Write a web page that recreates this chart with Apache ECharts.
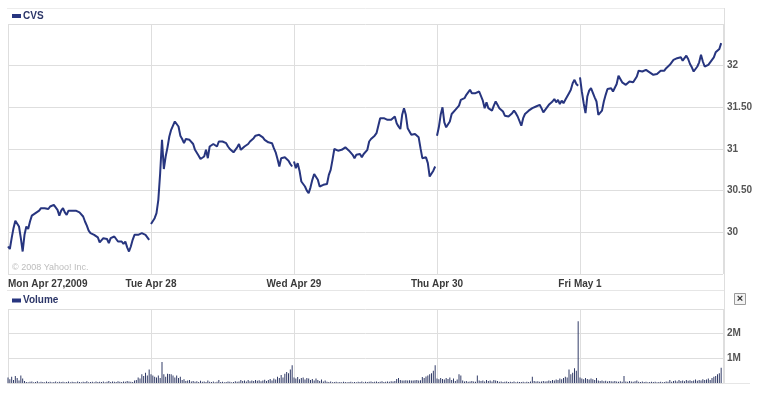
<!DOCTYPE html>
<html>
<head>
<meta charset="utf-8">
<script src="https://cdn.jsdelivr.net/npm/echarts@6/dist/echarts.min.js"></script>
<style>
html,body{margin:0;padding:0;background:#fff;}
#chart{width:761px;height:393px;}
</style>
</head>
<body>
<div id="chart"></div>
<script>
// ---- data ----
const symbol = 'CVS';
const volumeTitle = 'Volume';
const copyrightText = '\u00a9 2008 Yahoo! Inc.';
const dayLabels = ['Mon Apr 27,2009', 'Tue Apr 28', 'Wed Apr 29', 'Thu Apr 30', 'Fri May 1'];
const sessionMinutes = 390;   // 9:30 - 16:00
const barMinutes = 5;         // 5-minute samples
const priceMin = 29.5, priceMax = 32.5, priceStep = 0.5;
const volumeMin = 0, volumeMax = 3, volumeStep = 1; // millions

const monPrice = [29.83,29.80,29.93,30.05,30.14,30.16,30.07,29.93,29.77,29.97,
 30.07,30.04,30.13,30.20,30.21,30.23,30.21,30.26,30.29,30.31,
 30.29,30.29,30.28,30.31,30.33,30.33,30.31,30.27,30.20,30.26,
 30.29,30.24,30.21,30.26,30.25,30.26,30.26,30.26,30.26,30.24,
 30.23,30.19,30.13,30.08,30.02,29.99,29.99,29.97,29.97,29.94,
 29.88,29.89,29.93,29.91,29.92,29.87,29.93,29.95,29.95,29.94,
 29.89,29.91,29.89,29.86,29.89,29.82,29.77,29.83,29.91,29.97,
 29.96,29.97,29.97,29.99,30.01,29.97,29.95,29.91];
const tuePrice = [30.10,30.12,30.17,30.23,30.39,30.71,31.11,30.76,30.91,31.02,
 31.15,31.23,31.28,31.33,31.35,31.27,31.16,31.12,31.07,31.12,
 31.14,31.11,31.11,31.06,30.99,30.98,30.92,30.88,30.86,30.91,
 30.99,30.89,31.03,31.05,31.06,31.08,31.03,31.09,31.09,31.09,
 31.09,31.07,31.03,31.00,30.98,30.96,30.95,31.02,31.06,30.99,
 30.97,31.03,31.01,31.06,31.09,31.11,31.13,31.16,31.17,31.17,
 31.16,31.14,31.11,31.09,31.08,31.09,31.07,31.01,30.96,30.88,
 30.79,30.89,30.90,30.90,30.89,30.86,30.82,30.79];
const wedPrice = [30.85,30.77,30.83,30.74,30.61,30.58,30.55,30.50,30.47,30.54,
 30.63,30.70,30.71,30.63,30.55,30.54,30.57,30.58,30.58,30.69,
 30.75,30.87,31.00,31.01,30.98,30.97,30.99,31.01,31.02,31.00,
 30.98,30.96,30.93,30.89,30.93,30.91,30.94,30.90,30.94,30.92,
 30.99,31.09,31.12,31.12,31.16,31.19,31.28,31.37,31.38,31.37,
 31.35,31.35,31.35,31.35,31.37,31.39,31.31,31.27,31.24,31.41,
 31.49,31.41,31.25,31.21,31.17,31.16,31.18,31.20,31.14,31.01,
 30.89,30.90,30.90,30.83,30.67,30.68,30.74,30.79];
const thuPrice = [31.16,31.26,31.41,31.50,31.32,31.26,31.25,31.33,31.42,31.41,
 31.47,31.48,31.52,31.59,31.60,31.61,31.65,31.68,31.71,31.67,
 31.66,31.67,31.68,31.69,31.67,31.58,31.49,31.56,31.49,31.47,
 31.46,31.52,31.57,31.53,31.49,31.49,31.45,31.40,31.39,31.39,
 31.40,31.43,31.46,31.43,31.39,31.37,31.28,31.37,31.42,31.43,
 31.46,31.44,31.49,31.49,31.51,31.52,31.53,31.49,31.44,31.44,
 31.50,31.53,31.54,31.57,31.60,31.56,31.59,31.54,31.58,31.55,
 31.59,31.63,31.67,31.71,31.79,31.83,31.78,31.76];
const friPrice = [31.86,31.69,31.55,31.43,31.63,31.70,31.73,31.73,31.62,31.57,
 31.41,31.40,31.46,31.57,31.65,31.72,31.74,31.73,31.69,31.67,
 31.78,31.88,31.84,31.80,31.80,31.77,31.78,31.81,31.80,31.80,
 31.80,31.87,31.94,31.95,31.93,31.93,31.95,31.93,31.92,31.90,
 31.89,31.90,31.90,31.90,31.94,31.94,31.94,31.97,31.99,32.01,
 32.04,32.07,32.07,32.09,32.10,32.10,32.06,32.09,32.12,32.08,
 32.02,31.98,31.93,31.93,31.99,32.04,32.13,32.05,31.99,32.00,
 32.01,32.04,32.05,32.10,32.16,32.15,32.20,32.27];

const monVol = [0.22,0.15,0.25,0.12,0.28,0.20,0.10,0.30,0.18,0.08,
 0.04,0.03,0.05,0.06,0.03,0.04,0.07,0.03,0.05,0.04,
 0.03,0.06,0.04,0.05,0.03,0.04,0.06,0.03,0.05,0.04,
 0.05,0.03,0.04,0.06,0.03,0.05,0.04,0.03,0.06,0.04,
 0.03,0.05,0.04,0.07,0.03,0.04,0.05,0.03,0.06,0.04,
 0.05,0.04,0.06,0.03,0.05,0.08,0.04,0.06,0.05,0.04,
 0.07,0.05,0.04,0.06,0.05,0.08,0.06,0.05,0.04,0.10,
 0.12,0.22,0.18,0.35,0.28,0.42,0.30,0.55];
const tueVol = [0.35,0.30,0.25,0.22,0.30,0.20,0.85,0.35,0.25,0.38,
 0.36,0.35,0.30,0.22,0.30,0.20,0.25,0.12,0.15,0.08,
 0.10,0.12,0.06,0.08,0.05,0.07,0.04,0.09,0.05,0.06,
 0.04,0.10,0.05,0.04,0.06,0.03,0.05,0.12,0.04,0.05,
 0.03,0.04,0.06,0.05,0.03,0.04,0.07,0.05,0.06,0.12,
 0.08,0.10,0.06,0.12,0.07,0.10,0.08,0.12,0.09,0.11,
 0.07,0.10,0.13,0.08,0.12,0.16,0.10,0.18,0.14,0.25,
 0.20,0.32,0.22,0.38,0.45,0.40,0.55,0.72];
const wedVol = [0.22,0.18,0.24,0.15,0.20,0.22,0.14,0.20,0.18,0.12,
 0.16,0.10,0.18,0.12,0.08,0.14,0.06,0.10,0.05,0.04,
 0.06,0.03,0.04,0.05,0.03,0.04,0.03,0.05,0.04,0.03,
 0.04,0.05,0.03,0.04,0.03,0.05,0.04,0.06,0.03,0.05,
 0.04,0.05,0.06,0.04,0.05,0.06,0.04,0.05,0.07,0.04,
 0.05,0.06,0.05,0.07,0.06,0.08,0.16,0.20,0.12,0.10,
 0.10,0.11,0.10,0.11,0.10,0.10,0.11,0.12,0.10,0.11,
 0.24,0.20,0.26,0.30,0.35,0.40,0.50,0.72];
const thuVol = [0.18,0.15,0.20,0.16,0.14,0.20,0.16,0.22,0.12,0.18,
 0.08,0.14,0.35,0.30,0.10,0.06,0.08,0.05,0.06,0.08,
 0.06,0.05,0.30,0.10,0.08,0.10,0.06,0.12,0.08,0.10,
 0.06,0.12,0.10,0.08,0.05,0.06,0.04,0.05,0.06,0.04,
 0.05,0.04,0.06,0.03,0.05,0.04,0.04,0.05,0.03,0.05,
 0.04,0.06,0.25,0.08,0.06,0.07,0.05,0.06,0.08,0.06,
 0.07,0.10,0.08,0.12,0.10,0.14,0.12,0.18,0.15,0.20,
 0.25,0.22,0.55,0.35,0.42,0.60,0.50,2.50];
const friVol = [0.22,0.18,0.15,0.20,0.16,0.14,0.18,0.15,0.12,0.20,
 0.10,0.08,0.10,0.07,0.09,0.06,0.08,0.07,0.06,0.08,
 0.06,0.05,0.07,0.05,0.28,0.06,0.05,0.08,0.06,0.05,
 0.07,0.10,0.05,0.04,0.06,0.04,0.05,0.03,0.04,0.05,
 0.04,0.05,0.03,0.04,0.05,0.03,0.04,0.06,0.05,0.12,
 0.05,0.08,0.10,0.06,0.12,0.08,0.10,0.07,0.12,0.09,
 0.11,0.08,0.10,0.14,0.09,0.12,0.10,0.15,0.12,0.14,
 0.18,0.12,0.20,0.25,0.28,0.35,0.40,0.62];

const priceDays = [monPrice, tuePrice, wedPrice, thuPrice, friPrice];
const volumeDays = [monVol, tueVol, wedVol, thuVol, friVol];

// ---- build ----
const LINE = '#27357f';
const GRIDC = '#dedede';
const FONT = '"Liberation Sans", Arial, sans-serif';
const xMax = sessionMinutes * dayLabels.length;

function toPoints(arr, d) {
  return arr.map((v, i) => [d * sessionMinutes + i * barMinutes, v]);
}

const series = [];
priceDays.forEach((arr, d) => {
  series.push({
    type: 'line', xAxisIndex: 0, yAxisIndex: 0, data: toPoints(arr, d),
    showSymbol: false, symbol: 'none', silent: true,
    lineStyle: { color: LINE, width: 2 }, animation: false
  });
});
const volData = [];
volumeDays.forEach((arr, d) => { toPoints(arr, d).forEach(p => volData.push(p)); });
series.push({
  type: 'bar', xAxisIndex: 1, yAxisIndex: 1, data: volData,
  barWidth: 1, itemStyle: { color: '#333d68' }, animation: false, silent: true
});

function priceLabel(v) {
  if (Math.abs(v - Math.round(v)) < 1e-6) return String(Math.round(v));
  return v.toFixed(2);
}

const chart = echarts.init(document.getElementById('chart'), null, { renderer: 'canvas' });
chart.setOption({
  backgroundColor: '#fff',
  animation: false,
  grid: [
    { left: 8, right: 38, top: 24, height: 250 },
    { left: 8, right: 38, top: 309, height: 74 }
  ],
  xAxis: [
    {
      type: 'value', gridIndex: 0, min: 0, max: xMax, interval: sessionMinutes,
      axisLine: { show: false }, axisTick: { show: false },
      splitLine: { show: true, lineStyle: { color: GRIDC, width: 1 } },
      axisLabel: {
        show: true, margin: 5, fontSize: 10, fontWeight: 'bold', color: '#3a3a3a', fontFamily: FONT,
        showMaxLabel: false, alignMinLabel: 'left',
        formatter: v => dayLabels[Math.round(v / sessionMinutes)] || ''
      }
    },
    {
      type: 'value', gridIndex: 1, min: 0, max: xMax, interval: sessionMinutes,
      axisLine: { show: false }, axisTick: { show: false }, axisLabel: { show: false },
      splitLine: { show: true, lineStyle: { color: GRIDC, width: 1 } }
    }
  ],
  yAxis: [
    {
      type: 'value', gridIndex: 0, position: 'right', min: priceMin, max: priceMax, interval: priceStep,
      axisLine: { show: false }, axisTick: { show: false },
      splitLine: { show: true, lineStyle: { color: GRIDC, width: 1 } },
      axisLabel: {
        margin: 4, fontSize: 10, fontWeight: 'bold', color: '#555', fontFamily: FONT,
        showMinLabel: false, showMaxLabel: false, formatter: priceLabel
      }
    },
    {
      type: 'value', gridIndex: 1, position: 'right', min: volumeMin, max: volumeMax, interval: volumeStep,
      axisLine: { show: false }, axisTick: { show: false },
      splitLine: { show: true, lineStyle: { color: GRIDC, width: 1 } },
      axisLabel: {
        margin: 4, fontSize: 10, fontWeight: 'bold', color: '#555', fontFamily: FONT,
        showMinLabel: false, showMaxLabel: false, formatter: v => v + 'M'
      }
    }
  ],
  series: series,
  graphic: [
    { type: 'line', shape: { x1: 7, y1: 8.5, x2: 724.5, y2: 8.5 }, style: { stroke: '#ececec', lineWidth: 1 }, silent: true },
    { type: 'line', shape: { x1: 724.5, y1: 8, x2: 724.5, y2: 290 }, style: { stroke: '#dedede', lineWidth: 1 }, silent: true },
    { type: 'line', shape: { x1: 7, y1: 290.5, x2: 724.5, y2: 290.5 }, style: { stroke: '#e6e6e6', lineWidth: 1 }, silent: true },
    { type: 'line', shape: { x1: 724.5, y1: 290, x2: 724.5, y2: 384 }, style: { stroke: '#dedede', lineWidth: 1 }, silent: true },
    { type: 'line', shape: { x1: 7, y1: 383.5, x2: 750, y2: 383.5 }, style: { stroke: '#e6e6e6', lineWidth: 1 }, silent: true },
    { type: 'rect', shape: { x: 12, y: 14, width: 9, height: 4 }, style: { fill: LINE }, silent: true },
    { type: 'text', x: 23, y: 16, style: { text: symbol, fill: '#2c3668', font: 'bold 10px ' + FONT, textVerticalAlign: 'middle', verticalAlign: 'middle' }, silent: true },
    { type: 'text', x: 12, y: 268, style: { text: copyrightText, fill: '#bdbdbd', font: '9px ' + FONT, textVerticalAlign: 'middle', verticalAlign: 'middle' }, silent: true },
    { type: 'rect', shape: { x: 12, y: 298.5, width: 9, height: 4 }, style: { fill: LINE }, silent: true },
    { type: 'text', x: 23, y: 300.5, style: { text: volumeTitle, fill: '#2c3668', font: 'bold 10px ' + FONT, textVerticalAlign: 'middle', verticalAlign: 'middle' }, silent: true },
    { type: 'rect', shape: { x: 734.5, y: 293.5, width: 11, height: 11 }, style: { fill: '#f3f3f3', stroke: '#9a9a9a', lineWidth: 1 }, silent: true },
    { type: 'text', x: 740, y: 299, style: { text: '\u00d7', fill: '#333', font: 'bold 11px ' + FONT, textAlign: 'center', align: 'center', textVerticalAlign: 'middle', verticalAlign: 'middle' }, silent: true }
  ]
});
</script>
</body>
</html>
